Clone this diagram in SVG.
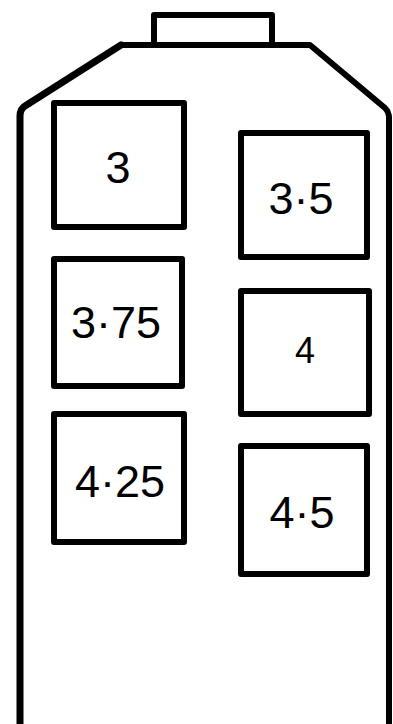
<svg xmlns="http://www.w3.org/2000/svg" width="393" height="724" viewBox="0 0 393 724">
<style>
.outline{fill:none;stroke:#000;stroke-linejoin:round;stroke-linecap:round}
.box{fill:#fff;stroke:#000;stroke-width:6;stroke-linejoin:round}
.lbl{font-family:"Liberation Sans",Arial,sans-serif;font-size:45px;fill:#000;text-anchor:middle;dominant-baseline:central}
</style>
<rect width="393" height="724" fill="#fff"/>
<g id="bottle">
<path class="outline" stroke-width="6" d="M154,44 L154,15 L272,15 L272,44"/>
<path class="outline" stroke-width="6" d="M121,45 L310,45 L385,108 Q389,112 389,118 L389,730"/>
<path class="outline" stroke-width="7" d="M20,730 L20,116 Q20,109 25,106 L121,45"/>
</g>
<g id="n3"><rect class="box" x="54" y="103" width="130" height="124"/><text class="lbl" x="118" y="167">3</text></g>
<g id="n3_5"><rect class="box" x="241" y="133" width="126" height="124"/><text class="lbl" x="301" y="198">3·5</text></g>
<g id="n3_75"><rect class="box" x="54" y="259" width="128" height="127"/><text class="lbl" x="116" y="322">3·75</text></g>
<g id="n4"><rect class="box" x="241" y="291" width="128" height="123"/><text class="lbl" x="305" y="350" style="font-size:36px">4</text></g>
<g id="n4_25"><rect class="box" x="54" y="414" width="130" height="128"/><text class="lbl" x="120" y="481">4·25</text></g>
<g id="n4_5"><rect class="box" x="241" y="446" width="126" height="128"/><text class="lbl" x="302" y="512">4·5</text></g>
<g id="connectors"></g>
</svg>
